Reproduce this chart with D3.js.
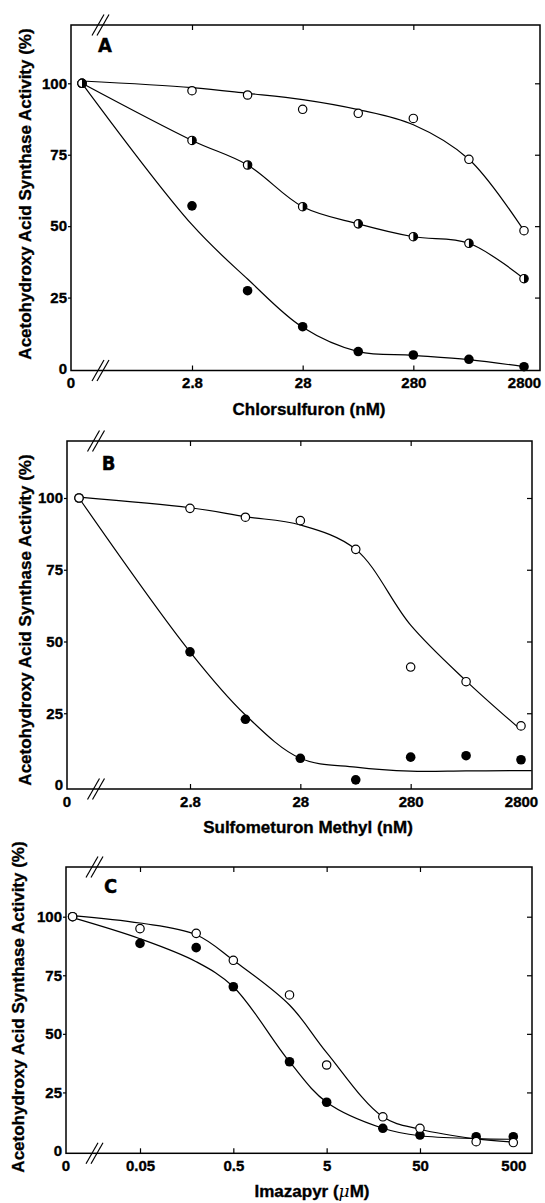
<!DOCTYPE html>
<html>
<head>
<meta charset="utf-8">
<script src="https://cdn.jsdelivr.net/npm/d3@7"></script>
<style>
body { margin: 0; background: #fff; }
svg text { font-family: 'Liberation Sans', Arial, sans-serif; font-weight: bold; fill: #000; stroke: #000; stroke-width: 0.35px; }
.tick text, .zero { font-size: 15px; }
.title { font-size: 17px; }
.letter { font-family: 'Liberation Sans Narrow', 'DejaVu Sans Condensed', sans-serif; font-size: 20px; }
</style>
</head>
<body>
<svg id="fig" width="545" height="1203"></svg>
<script>
// concentrations; 0 is the control, drawn left of the axis break
const chlorConc = [0, 2.8, 8.9, 28, 89, 280, 890, 2800];
const imazConc = [0, 0.05, 0.2, 0.5, 2, 5, 20, 50, 200, 500];

// A - chlorsulfuron (nM)
const chlorOpen = [100, 97.4, 95.9, 90.9, 89.5, 87.7, 73.4, 48.4];
const chlorHalf = [100, 80.0, 71.4, 56.8, 50.8, 46.3, 44.0, 31.6];
const chlorFilled = [100, 57.1, 27.4, 14.8, 6.1, 4.9, 3.4, 0.8];
// hand drawn curves
const chlorOpenFit = [100.8, 98.5, 96.5, 94.3, 90.8, 85.5, 73.4, 48.4];
const chlorHalfFit = [100, 80.0, 71.4, 56.8, 50.8, 46.3, 44.0, 31.6];
const chlorFilledFit = [100, 50.5, 31.5, 14.6, 6.1, 4.8, 3.3, 0.8];

// B - sulfometuron methyl (nM)
const sulfOpen = [100, 96.4, 93.3, 92.1, 82.1, 41.1, 36.0, 20.6];
const sulfFilled = [100, 46.4, 22.9, 9.3, 1.8, 9.7, 10.2, 8.8];
const sulfOpenFit = [100.3, 96.6, 93.5, 90.6, 82.1, 55.7, 36.3, 19.2];
const sulfFilledFitConc = [0, 2.8, 8.9, 28, 89, 280, 890, 2800, 3500];
const sulfFilledFit = [100, 46.4, 24.4, 9.3, 6.2, 4.8, 4.9, 5.0, 5.0];

// C - imazapyr (uM)
const imazOpen = [100, 94.9, 92.9, 81.4, 66.6, 36.7, 14.6, 9.7, 4.0, 3.6];
const imazFilled = [100, 88.6, 86.8, 70.1, 38.1, 20.8, 9.7, 6.8, 6.1, 6.1];
const imazOpenFit = [100.5, 97.3, 92.3, 81.4, 62.3, 42.0, 14.6, 9.3, 5.2, 3.8];
const imazFilledFit = [99.6, 90.6, 80.8, 70.1, 38.1, 20.8, 9.7, 6.5, 5.3, 5.0];

// tick labels
const yTicks = [0, 25, 50, 75, 100];
const chlorTicks = [2.8, 28, 280, 2800];
const imazTicks = [0.05, 0.5, 5, 50, 500];

const yTitle = "Acetohydroxy Acid Synthase Activity (%)";

const svg = d3.select("#fig");

const panels = [
	{
		letter: "A", left: 71, top: 25, right: 540, bottom: 370.5,
		logDomain: [2.8, 2800], logRange: [121, 453], zeroX: 11, breakX: 29.5,
		y0: 344, y100: 58.3, ticks: chlorTicks,
		letterPos: [27, 27], xTitle: ["Chlorsulfuron (nM)"], xTitleX: 238, yTitleX: -40, yTitleY: 169,
		series: [
			{ type: "open", x: chlorConc, pts: chlorOpen, fitX: chlorConc, fit: chlorOpenFit },
			{ type: "filled", x: chlorConc, pts: chlorFilled, fitX: chlorConc, fit: chlorFilledFit },
			{ type: "half", x: chlorConc, pts: chlorHalf, fitX: chlorConc, fit: chlorHalfFit }
		]
	},
	{
		letter: "B", left: 67, top: 441, right: 532, bottom: 789,
		logDomain: [2.8, 2800], logRange: [123, 454], zeroX: 12, breakX: 29,
		y0: 344, y100: 57, ticks: chlorTicks,
		letterPos: [34.7, 29], xTitle: ["Sulfometuron Methyl (nM)"], xTitleX: 241, yTitleX: -36, yTitleY: 179,
		series: [
			{ type: "filled", x: chlorConc, pts: sulfFilled, fitX: sulfFilledFitConc, fit: sulfFilledFit },
			{ type: "open", x: chlorConc, pts: sulfOpen, fitX: chlorConc, fit: sulfOpenFit }
		]
	},
	{
		letter: "C", left: 66, top: 867, right: 532, bottom: 1153.3,
		logDomain: [0.05, 500], logRange: [74, 447.3], zeroX: 6.6, breakX: 28.5,
		y0: 284, y100: 49.7, ticks: imazTicks,
		letterPos: [38, 26], xTitle: ["Imazapyr (", "\u03bc", "M)"], xTitleX: 246, yTitleX: -42, yTitleY: 140,
		series: [
			{ type: "filled", x: imazConc, pts: imazFilled, fitX: imazConc, fit: imazFilledFit },
			{ type: "open", x: imazConc, pts: imazOpen, fitX: imazConc, fit: imazOpenFit }
		]
	}
];

function drawPanel(p) {
	const w = p.right - p.left,
		h = p.bottom - p.top;

	const g = svg.append("g")
		.attr("transform", "translate(" + p.left + "," + p.top + ")");

	const xLog = d3.scaleLog().domain(p.logDomain).range(p.logRange);
	const x = v => v === 0 ? p.zeroX : xLog(v);
	const y = d3.scaleLinear().domain([0, 100]).range([p.y0, p.y100]);

	// frame
	g.append("rect")
		.attr("width", w)
		.attr("height", h)
		.attr("fill", "none")
		.attr("stroke", "#000")
		.attr("stroke-width", 1.5);

	// left axis, ticks outside
	const left = g.append("g")
		.call(d3.axisLeft(y).tickValues(yTicks).tickSize(3).tickPadding(1));
	left.selectAll(".tick").filter(d => d === 0).select("line").remove();

	// right axis, ticks inside
	const right = g.append("g")
		.attr("transform", "translate(" + w + ",0)")
		.call(d3.axisRight(y).tickValues(yTicks.slice(1)).tickSize(-5).tickFormat(""));

	// bottom axis with labels
	const bottom = g.append("g")
		.attr("transform", "translate(0," + h + ")")
		.call(d3.axisBottom(xLog).tickValues(p.ticks).tickFormat(d => d)
			.tickSizeInner(-5).tickSizeOuter(0).tickPadding(7));
	bottom.selectAll(".tick").filter((d, i) => i === p.ticks.length - 1).select("line").remove();

	const top = g.append("g")
		.call(d3.axisTop(xLog).tickValues(p.ticks.slice(0, -1)).tickSize(-5).tickFormat(""));

	[left, right, bottom, top].forEach(a => {
		a.select(".domain").remove();
		a.attr("font-family", null).attr("font-size", null);
		a.selectAll("line").attr("stroke-width", 1.2);
	});

	g.append("text")
		.attr("class", "zero")
		.attr("x", 0)
		.attr("y", h + 7)
		.attr("dy", "0.71em")
		.attr("text-anchor", "middle")
		.text("0");

	// axis break marks
	[0, h].forEach(yy => {
		[-2.5, 2.5].forEach(dx => {
			g.append("line")
				.attr("x1", p.breakX + dx - 6)
				.attr("y1", yy + 10.5)
				.attr("x2", p.breakX + dx + 6)
				.attr("y2", yy - 10.5)
				.attr("stroke", "#000")
				.attr("stroke-width", 1.2);
		});
	});

	const line = d3.line()
		.x(d => x(d[0]))
		.y(d => y(d[1]))
		.curve(d3.curveCatmullRom.alpha(0.5));

	p.series.forEach(s => {
		g.append("path")
			.datum(d3.zip(s.fitX, s.fit))
			.attr("d", line)
			.attr("fill", "none")
			.attr("stroke", "#000")
			.attr("stroke-width", 1.2);
	});

	const halfArc = d3.arc().innerRadius(0).outerRadius(4.2).startAngle(0).endAngle(Math.PI);

	p.series.forEach(s => {
		const pts = d3.zip(s.x, s.pts);
		const m = g.append("g");
		if (s.type === "filled") {
			m.selectAll("circle").data(pts).enter().append("circle")
				.attr("cx", d => x(d[0]))
				.attr("cy", d => y(d[1]))
				.attr("r", 4.8)
				.attr("fill", "#000");
		} else {
			m.selectAll("circle").data(pts).enter().append("circle")
				.attr("cx", d => x(d[0]))
				.attr("cy", d => y(d[1]))
				.attr("r", 4.2)
				.attr("fill", "#fff")
				.attr("stroke", "#000")
				.attr("stroke-width", 1.2);
			if (s.type === "half") {
				m.selectAll("path").data(pts).enter().append("path")
					.attr("transform", d => "translate(" + x(d[0]) + "," + y(d[1]) + ")")
					.attr("d", halfArc)
					.attr("fill", "#000");
			}
		}
	});

	// panel letter
	g.append("text")
		.attr("class", "letter")
		.attr("x", p.letterPos[0])
		.attr("y", p.letterPos[1])
		.text(p.letter);

	// x title
	const xt = g.append("text")
		.attr("class", "title")
		.attr("x", p.xTitleX)
		.attr("y", h + 44)
		.attr("text-anchor", "middle");
	p.xTitle.forEach(t => {
		const ts = xt.append("tspan").text(t);
		if (t === "\u03bc") {
			ts.style("font-family", "'DejaVu Serif', serif")
				.style("font-style", "italic")
				.style("font-weight", "normal")
				.style("stroke-width", "0px");
		}
	});

	// y title
	g.append("text")
		.attr("class", "title")
		.attr("transform", "translate(" + p.yTitleX + "," + p.yTitleY + ") rotate(-90)")
		.attr("text-anchor", "middle")
		.text(yTitle);
}

panels.forEach(drawPanel);
</script>
</body>
</html>
